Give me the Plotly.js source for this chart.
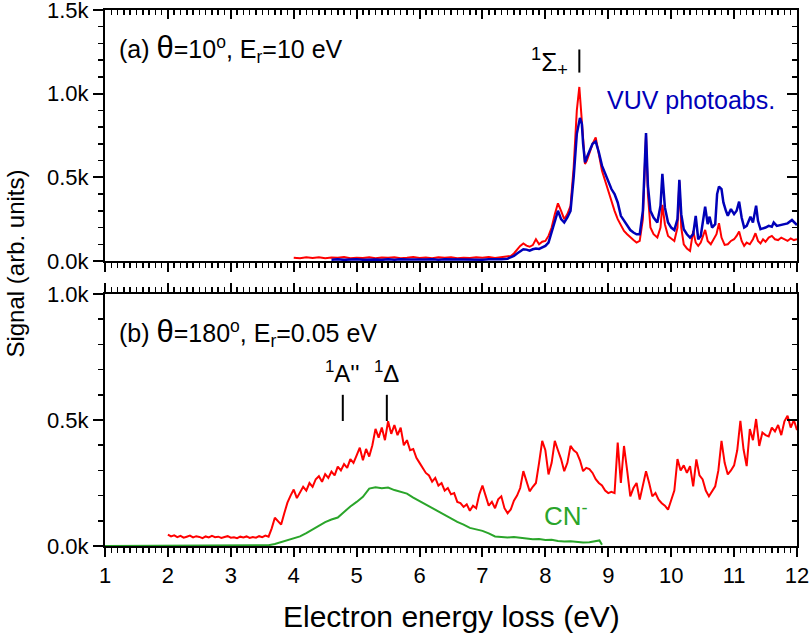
<!DOCTYPE html>
<html>
<head>
<meta charset="utf-8">
<script src="https://cdn.plot.ly/plotly-3.0.1.min.js"></script>
<style>html,body{margin:0;padding:0;background:#fff;}#chart{width:810px;height:634px;}</style>
</head>
<body>
<div id="chart"></div>
<script>
// ---------- Panel (a): theta = 10 deg, Er = 10 eV ----------
const energyTopRed = [4.0,4.1,4.2,4.3,4.4,4.5,4.6,4.7,4.8,4.9,5.0,5.1,5.2,5.3,5.4,5.5,5.6,5.7,5.8,5.9,6.0,6.1,6.2,6.3,6.4,6.5,6.6,6.7,6.8,6.9,7.0,7.1,7.2,7.3,7.4,
  7.45,7.5,7.55,7.6,7.65,7.7,7.75,7.8,7.85,7.9,7.95,8.0,8.05,8.1,8.15,8.2,8.25,8.3,8.35,8.4,8.45,8.5,8.54,8.57,8.6,8.63,8.66,8.7,8.75,8.8,8.85,8.9,8.95,
  9.0,9.05,9.1,9.15,9.2,9.25,9.3,9.35,9.4,9.45,9.5,9.55,9.6,9.63,9.67,9.72,9.78,9.83,9.86,9.9,9.95,
  10.0,10.05,10.1,10.13,10.16,10.2,10.25,10.3,10.35,10.39,10.43,10.47,10.54,10.58,10.63,10.68,10.72,10.76,10.8,10.85,10.9,10.95,
  11.0,11.04,11.08,11.12,11.16,11.2,11.25,11.3,11.34,11.38,11.42,11.46,11.5,11.55,11.6,11.65,11.7,11.75,11.8,11.85,11.9,11.95,12.0];
const signalTopRed = [20,17,23,18,22,16,21,19,24,17,20,18,23,16,21,19,22,17,20,24,18,21,16,22,19,23,17,20,18,22,19,24,18,21,25,
  30,45,70,90,105,92,85,95,130,100,115,120,150,200,280,345,300,250,280,330,560,900,1040,880,680,580,600,650,700,738,640,540,480,
  420,350,300,250,210,180,160,140,125,110,120,250,755,400,200,160,140,200,335,220,150,
  135,120,200,476,200,100,75,60,180,110,90,110,186,120,100,130,160,226,140,96,100,120,
  130,150,176,120,90,110,100,130,166,120,105,130,115,140,150,130,125,140,130,120,135,125,130];

const energyVUV = [4.6,4.7,4.8,4.9,5.0,5.1,5.2,5.3,5.4,5.5,5.6,5.7,5.8,5.9,6.0,6.1,6.2,6.3,6.4,6.5,6.6,6.7,6.8,6.9,7.0,7.1,7.2,7.3,7.4,
  7.5,7.55,7.6,7.65,7.7,7.75,7.8,7.85,7.9,7.95,8.0,8.05,8.1,8.15,8.2,8.25,8.3,8.35,8.4,8.45,8.5,8.55,8.58,8.6,8.63,8.66,8.7,8.75,8.8,8.85,8.9,8.95,
  9.0,9.05,9.1,9.15,9.2,9.25,9.3,9.35,9.4,9.45,9.5,9.55,9.6,9.63,9.67,9.72,9.78,9.83,9.86,9.9,9.95,
  10.0,10.05,10.1,10.13,10.16,10.2,10.25,10.3,10.35,10.39,10.43,10.47,10.51,10.54,10.58,10.61,10.65,10.7,10.73,10.76,10.8,10.83,10.87,10.9,10.95,
  11.0,11.04,11.08,11.12,11.16,11.2,11.26,11.3,11.35,11.38,11.42,11.5,11.55,11.6,11.63,11.68,11.75,11.8,11.85,11.92,11.96,12.0];
const signalVUV = [8,10,7,9,11,8,10,9,7,10,8,11,9,8,10,9,11,8,10,9,8,11,10,9,8,10,9,11,14,
  30,45,60,70,68,62,70,75,72,80,90,110,170,240,300,250,230,260,300,500,760,855,820,700,590,620,660,700,714,650,570,520,
  470,430,400,350,270,240,210,185,170,160,160,300,765,450,300,260,230,330,521,320,230,
  200,185,250,485,280,190,160,140,160,270,130,150,250,325,220,265,200,220,400,445,430,350,300,270,310,
  280,300,355,260,200,210,265,230,331,240,190,200,210,205,230,210,215,220,225,245,230,215];

// ---------- Panel (b): theta = 180 deg, Er = 0.05 eV ----------
const energyBottomRed = [2,2.05,2.1,2.15,2.2,2.25,2.3,2.35,2.4,2.45,2.5,2.55,2.6,2.65,2.7,2.75,2.8,2.85,2.9,2.95,
  3,3.05,3.1,3.15,3.2,3.25,3.3,3.35,3.4,3.45,3.5,3.55,3.6,3.65,3.7,3.75,3.8,3.85,3.9,3.95,
  4,4.05,4.1,4.15,4.2,4.25,4.3,4.35,4.4,4.45,4.5,4.55,4.6,4.65,4.7,4.75,4.8,4.85,4.9,4.95,
  5,5.05,5.1,5.15,5.2,5.25,5.3,5.35,5.4,5.45,5.5,5.55,5.6,5.65,5.7,5.75,5.8,5.85,5.9,5.95,
  6,6.05,6.1,6.15,6.2,6.25,6.3,6.35,6.4,6.45,6.5,6.55,6.6,6.65,6.7,6.75,6.8,6.85,6.9,6.95,
  7,7.05,7.1,7.15,7.2,7.25,7.3,7.35,7.4,7.45,7.5,7.55,7.6,7.65,7.7,7.75,7.8,7.85,7.9,7.95,
  8,8.05,8.1,8.15,8.2,8.25,8.3,8.35,8.4,8.45,8.5,8.55,8.6,8.65,8.7,8.75,8.8,8.85,8.9,8.95,
  9,9.05,9.1,9.15,9.2,9.25,9.3,9.35,9.4,9.45,9.5,9.55,9.6,9.65,9.7,9.75,9.8,9.85,9.9,9.95,
  10,10.05,10.1,10.15,10.2,10.25,10.3,10.35,10.4,10.45,10.5,10.55,10.6,10.65,10.7,10.75,10.8,10.85,10.9,10.95,
  11,11.05,11.1,11.15,11.2,11.25,11.3,11.35,11.4,11.45,11.5,11.55,11.6,11.65,11.7,11.75,11.8,11.85,11.9,11.95,12];
const signalBottomRed = [45,38,42,35,40,33,37,41,34,39,36,31,38,34,40,35,37,32,36,39,
  33,35,31,37,34,38,32,36,33,39,35,41,37,70,112,100,85,130,172,200,
  224,190,210,235,220,250,235,265,277,255,285,270,295,280,315,300,325,310,345,330,
  360,390,340,385,355,400,465,430,470,420,495,445,480,440,470,400,420,380,385,350,
  330,310,290,280,255,270,240,250,220,230,205,210,175,170,155,165,140,160,150,205,
  240,200,160,175,150,185,197,150,130,145,180,200,230,297,260,217,235,250,330,417,
  380,284,330,417,380,345,297,330,397,380,370,340,297,310,305,290,265,250,240,220,
  210,215,210,410,250,397,300,197,230,250,184,240,297,250,197,210,184,170,160,144,
  185,220,345,300,320,290,317,237,344,280,264,220,197,220,237,300,417,330,284,300,
  320,380,497,384,317,464,420,504,397,450,440,435,470,455,480,440,495,517,470,500,460];

const energyCN = [1.0,2.0,3.0,3.5,3.6,3.7,3.8,3.9,4.0,4.1,4.2,4.3,4.4,4.5,4.6,4.7,4.8,4.9,5.0,5.1,5.2,5.3,5.4,5.5,5.6,5.7,5.8,5.9,
  6.0,6.1,6.2,6.3,6.4,6.5,6.6,6.7,6.8,6.9,7.0,7.1,7.2,7.3,7.4,7.5,7.6,7.7,7.8,7.9,8.0,8.1,8.2,8.3,8.4,8.5,8.6,8.7,8.8,8.86,8.9];
const signalCN = [0,0,0,1,3,8,15,22,28,38,51,66,82,95,105,113,135,157,175,195,228,233,229,232,222,215,208,192,
  178,165,150,135,122,110,96,85,72,66,60,50,38,36,34,36,32,30,27,28,24,25,20,18,19,15,14,15,18,22,5];

// ---------- ticks and labels ----------
const xTickVals = [1,2,3,4,5,6,7,8,9,10,11,12];
const yTickValsTop = [0,500,1000,1500];
const yTickTextTop = ['0.0k','0.5k','1.0k','1.5k'];
const yTickValsBottom = [0,500,1000];
const yTickTextBottom = ['0.0k','0.5k','1.0k'];
const stateLabelsTop = ['<sup>1</sup>Σ<sub>+</sub>'];
const stateEnergiesTop = [8.54];
const stateLabelsBottom = ['<sup>1</sup>A\'\'', '<sup>1</sup>Δ'];
const stateEnergiesBottom = [4.78, 5.48];

const FONT = 'Arial, "Liberation Sans", sans-serif';
const RED = '#ff0000', BLUE = '#0000b8', GREEN = '#2aa52a';

const traces = [
  {x: energyTopRed, y: signalTopRed, xaxis: 'x2', yaxis: 'y2', mode: 'lines', line: {color: RED, width: 2}, hoverinfo: 'skip'},
  {x: energyVUV, y: signalVUV, xaxis: 'x2', yaxis: 'y2', mode: 'lines', line: {color: BLUE, width: 2.5}, hoverinfo: 'skip'},
  {x: energyCN, y: signalCN, xaxis: 'x', yaxis: 'y', mode: 'lines', line: {color: GREEN, width: 2}, hoverinfo: 'skip'},
  {x: energyBottomRed, y: signalBottomRed, xaxis: 'x', yaxis: 'y', mode: 'lines', line: {color: RED, width: 2}, hoverinfo: 'skip'}
];
// invisible companions so that the mirrored frame axes (top / right sides) get drawn
[['x3', 'y', energyCN, signalCN], ['x', 'y3', energyCN, signalCN],
 ['x4', 'y2', energyTopRed, signalTopRed], ['x2', 'y4', energyTopRed, signalTopRed]].forEach(([xa, ya, xs, ys]) => {
  traces.push({x: xs, y: ys, xaxis: xa, yaxis: ya, mode: 'lines', opacity: 0, line: {width: 0}, hoverinfo: 'skip', showlegend: false});
});

const minorX = (dir) => ({dtick: 0.1, ticklen: 5, tickwidth: 1.5, tickcolor: '#000', ticks: dir});
const minorY = (dir) => ({dtick: 100, ticklen: 5, tickwidth: 1.5, tickcolor: '#000', ticks: dir});
const baseX = {range: [1, 12], tickmode: 'array', tickvals: xTickVals, showgrid: false, zeroline: false,
  showline: true, linewidth: 2, linecolor: '#000', tickwidth: 2, tickcolor: '#000', ticklen: 9,
  ticklabeloverflow: 'allow', tickfont: {family: FONT, size: 22, color: '#000'}, fixedrange: true};
const baseY = {tickmode: 'array', tickwidth: 2, tickcolor: '#000', ticklen: 10, showline: true, linewidth: 2, linecolor: '#000',
  showgrid: false, zeroline: false, ticklabeloverflow: 'allow', tickfont: {family: FONT, size: 22, color: '#000'}, fixedrange: true};
const topDom = [0.5317, 1], botDom = [0, 0.4701];

const layout = {
  width: 810, height: 634,
  margin: {l: 105, r: 13, t: 10, b: 88},
  paper_bgcolor: '#fff', plot_bgcolor: '#fff',
  showlegend: false,
  xaxis: Object.assign({}, baseX, {anchor: 'y', ticks: 'outside', minor: minorX('outside'), showticklabels: true}),
  xaxis2: Object.assign({}, baseX, {anchor: 'y2', ticks: 'outside', minor: minorX('outside'), showticklabels: false}),
  xaxis3: Object.assign({}, baseX, {overlaying: 'x', anchor: 'y', side: 'top', ticks: 'outside', minor: minorX('outside'), showticklabels: false}),
  xaxis4: Object.assign({}, baseX, {overlaying: 'x2', anchor: 'y2', side: 'top', ticks: 'inside', minor: minorX('inside'), showticklabels: false}),
  yaxis: Object.assign({}, baseY, {domain: botDom, anchor: 'x', range: [0, 1000], tickvals: yTickValsBottom, ticktext: yTickTextBottom,
    ticks: 'outside', minor: minorY('outside')}),
  yaxis2: Object.assign({}, baseY, {domain: topDom, anchor: 'x2', range: [0, 1500], tickvals: yTickValsTop, ticktext: yTickTextTop,
    ticks: 'outside', minor: minorY('outside')}),
  yaxis3: Object.assign({}, baseY, {overlaying: 'y', anchor: 'x', side: 'right', range: [0, 1000], tickvals: yTickValsBottom,
    ticks: 'inside', minor: minorY('inside'), showticklabels: false}),
  yaxis4: Object.assign({}, baseY, {overlaying: 'y2', anchor: 'x2', side: 'right', range: [0, 1500], tickvals: yTickValsTop,
    ticks: 'inside', minor: minorY('inside'), showticklabels: false}),
  shapes: [],
  annotations: []
};

const ann = layout.annotations;
// axis titles
ann.push({xref: 'paper', yref: 'paper', x: 0.5, y: -0.131, xanchor: 'center', yanchor: 'middle', showarrow: false,
  text: 'Electron energy loss (eV)', font: {family: FONT, size: 30, color: '#000'}});
ann.push({xref: 'paper', yref: 'paper', x: -0.13, y: 0.527, xanchor: 'center', yanchor: 'middle', showarrow: false, textangle: -90,
  text: 'Signal (arb. units)', font: {family: FONT, size: 24, color: '#000'}});
// panel labels
ann.push({xref: 'paper', yref: 'paper', x: 0.018, y: (546 - 49) / 536, xanchor: 'left', yanchor: 'middle', showarrow: false,
  text: '(a) <span style="font-size:31px">θ</span>=10<sup>o</sup>, E<sub>r</sub>=10 eV', font: {family: FONT, size: 25, color: '#000'}});
ann.push({xref: 'paper', yref: 'paper', x: 0.018, y: (546 - 332) / 536, xanchor: 'left', yanchor: 'middle', showarrow: false,
  text: '(b) <span style="font-size:31px">θ</span>=180<sup>o</sup>, E<sub>r</sub>=0.05 eV', font: {family: FONT, size: 25, color: '#000'}});
ann.push({xref: 'x2', yref: 'y2', x: 8.94, y: 964, xanchor: 'left', yanchor: 'middle', showarrow: false,
  text: 'VUV photoabs.', font: {family: FONT, size: 25, color: BLUE}});
ann.push({xref: 'x', yref: 'y', x: 7.95, y: 124, xanchor: 'left', yanchor: 'middle', showarrow: false,
  text: 'CN<sup>-</sup>', font: {family: FONT, size: 26, color: GREEN}});
// state markers
stateEnergiesTop.forEach((e, i) => {
  layout.shapes.push({type: 'line', xref: 'x2', yref: 'y2', x0: e, x1: e, y0: 1126, y1: 1264, line: {color: '#000', width: 2}});
  ann.push({xref: 'x2', yref: 'y2', x: e - 0.15, y: 1190, xanchor: 'right', yanchor: 'middle', showarrow: false,
    text: stateLabelsTop[i], font: {family: FONT, size: 26, color: '#000'}});
});
stateEnergiesBottom.forEach((e, i) => {
  layout.shapes.push({type: 'line', xref: 'x', yref: 'y', x0: e, x1: e, y0: 496, y1: 600, line: {color: '#000', width: 2}});
  ann.push({xref: 'x', yref: 'y', x: e, y: 692, xanchor: 'center', yanchor: 'middle', showarrow: false,
    text: stateLabelsBottom[i], font: {family: FONT, size: 24, color: '#000'}});
});

Plotly.newPlot('chart', traces, layout, {staticPlot: true, displayModeBar: false});
</script>
</body>
</html>
